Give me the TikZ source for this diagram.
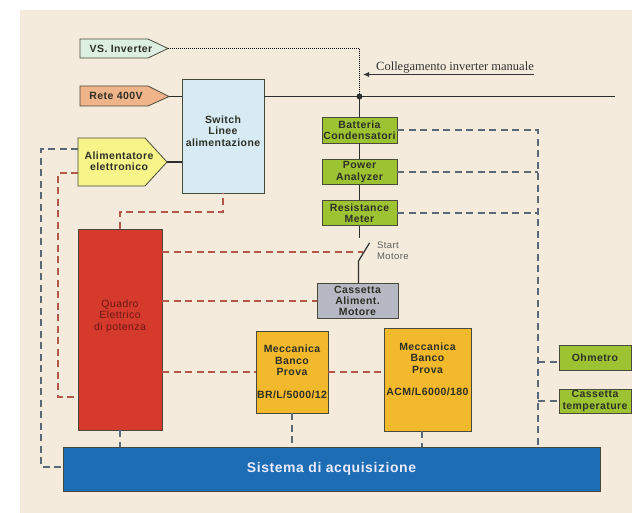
\documentclass[tikz,border=0pt]{standalone}
\usepackage{fontspec}
\setmainfont{Liberation Serif}
\setsansfont{Liberation Sans}
\newfontfamily\boxfont[LetterSpace=4]{Liberation Sans}
\usetikzlibrary{arrows.meta}
\definecolor{bg}{HTML}{F4EBDC}
\definecolor{edge}{HTML}{4A4A3C}
\definecolor{txt}{HTML}{2E3026}
\definecolor{vsc}{HTML}{DCEFE0}
\definecolor{retec}{HTML}{EFB48A}
\definecolor{swc}{HTML}{D6EBF4}
\definecolor{alimc}{HTML}{F7F48A}
\definecolor{grn}{HTML}{9DC332}
\definecolor{quadc}{HTML}{D63A2C}
\definecolor{quadt}{HTML}{6B1A14}
\definecolor{gryc}{HTML}{B6B9C4}
\definecolor{orc}{HTML}{F3B92C}
\definecolor{acqc}{HTML}{1D6DB4}
\definecolor{redd}{HTML}{B5564A}
\definecolor{blued}{HTML}{5A6878}
\definecolor{wirec}{HTML}{2E2E2E}
\definecolor{graytxt}{HTML}{5E5E5E}
\begin{document}
\begin{tikzpicture}[x=1pt,y=-1pt,
  bx/.style={draw=edge, line width=0.8pt, inner sep=0.5pt, align=center,
    font=\boxfont\bfseries\fontsize{10.5}{11.5}\selectfont, text=txt},
  bxtext/.style={inner sep=0pt, align=center,
    font=\boxfont\bfseries\fontsize{10.5}{11.5}\selectfont, text=txt},
  arrowshape/.style={draw=edge, line width=0.8pt},
  wire/.style={draw=wirec, line width=1.2pt},
  reddash/.style={draw=redd, line width=1.6pt, dash pattern=on 7pt off 4.5pt},
  bluedash/.style={draw=blued, line width=1.6pt, dash pattern=on 7pt off 4.5pt},
  dots/.style={draw=black, line width=0.9pt, dash pattern=on 0.9pt off 1.1pt}
]
\useasboundingbox (0,0) rectangle (632,513);
\fill[bg] (20,10) rectangle (632,513);

% arrow-shaped inputs
\filldraw[arrowshape, fill=vsc] (80,39) -- (148,39) -- (168,48.5) -- (148,58) -- (80,58) -- cycle;
\node[bxtext] (vs) at (121,48.5) {VS. Inverter};
\coordinate (vstip) at (168,48.5);

\filldraw[arrowshape, fill=retec] (80,86) -- (148,86) -- (169,96.5) -- (148,106) -- (80,106) -- cycle;
\node[bxtext] (rete) at (116,96) {Rete 400V};
\coordinate (retetip) at (169,96.5);

\filldraw[arrowshape, fill=alimc] (78,138) -- (145,138) -- (167,162) -- (145,186) -- (78,186) -- cycle;
\node[bxtext] (alim) at (119,161) {Alimentatore\\elettronico};
\coordinate (alimtip) at (167,162);
\coordinate (alimblueL) at (78,149);
\coordinate (alimredL) at (78,173);

% switch
\node[bx, fill=swc, minimum width=82, minimum height=114] (switch) at (223,136) {};
\node[bxtext] (switchtxt) at (223,131) {Switch\\Linee\\alimentazione};

% green chain
\node[bx, fill=grn, minimum width=75, minimum height=26] (batt) at (359.5,130) {Batteria\\Condensatori};
\node[bx, fill=grn, minimum width=75, minimum height=25] (power) at (359.5,172) {Power\\Analyzer};
\node[bx, fill=grn, minimum width=75, minimum height=25] (resist) at (359.5,213) {Resistance\\Meter};

\node[bx, fill=gryc, minimum width=81, minimum height=35, font=\boxfont\bfseries\fontsize{10.5}{11.2}\selectfont] (cassA) at (357.5,301) {Cassetta\\Aliment.\\Motore};

% quadro
\node[bx, fill=quadc, minimum width=84, minimum height=201] (quadro) at (120,329.5) {};
\node[inner sep=0pt, align=center, text=quadt, font=\boxfont\fontsize{10.5}{11.5}\selectfont] (quadrotxt) at (120,316) {Quadro\\Elettrico\\di potenza};

% meccanica
\node[bx, fill=orc, minimum width=72, minimum height=82] (BR) at (292,372) {Meccanica\\Banco\\Prova\\[11pt]BR/L/5000/12};
\node[bx, fill=orc, minimum width=87, minimum height=103] (ACM) at (427.5,379.5) {};
\node[bxtext] (ACMtxt) at (427.5,369.5) {Meccanica\\Banco\\Prova\\[11pt]ACM/L6000/180};

% right boxes
\node[bx, fill=grn, minimum width=72, minimum height=25] (ohm) at (595,357.5) {Ohmetro};
\node[bx, fill=grn, minimum width=72, minimum height=24, inner sep=0.3pt, font=\boxfont\bfseries\fontsize{10.5}{11.2}\selectfont] (temp) at (595,401) {Cassetta\\temperature};

% acquisition
\node[draw=edge, line width=0.8pt, fill=acqc, minimum width=537, minimum height=44, text=white!92!blue, font=\boxfont\bfseries\fontsize{14}{16}\selectfont] (acq) at (331.5,469) {Sistema di acquisizione};

% manual inverter link
\coordinate (vscorner) at (359.5,48.5);
\coordinate (jn) at (359.5,96.5);
\draw[dots] (vstip) -- (vscorner) -- (jn);
\node[anchor=base west, inner sep=0pt, text=black!80, font=\fontsize{12.5}{14}\selectfont] (coll) at (376,71) {Collegamento inverter manuale};
\draw[draw=black!80, line width=0.8pt, -{Latex[length=6pt,width=5pt]}] ([yshift=-3.5pt]coll.base east) -- ([yshift=-3.5pt,xshift=3.5pt]coll.base west -| jn);

% power lines
\coordinate (mainend) at (615,96.5);
\draw[wire] (retetip) -- (switch.west |- retetip);
\draw[wire] (alimtip) -- (switch.west |- alimtip);
\draw[wire] (switch.east |- jn) -- (mainend);
\fill[wirec] (jn) circle (3);
\draw[wire] (jn) -- (batt.north);
\draw[wire] (batt.south) -- (power.north);
\draw[wire] (power.south) -- (resist.north);
\coordinate (swtop) at (359.5,238);
\coordinate (swbot) at (358.5,261);
\coordinate (swarm) at (369.5,243);
\coordinate (swmid) at (363,252);
\draw[wire] (resist.south) -- (swtop);
\draw[wire] (swarm) -- (swbot) -- (swbot |- cassA.north);
\node[anchor=north west, inner sep=0pt, align=left, text=graytxt, font=\boxfont\fontsize{9.5}{11}\selectfont] (start) at (377,241.5) {Start\\Motore};

% red dashed control lines
\coordinate (topbend) at (120,212);
\draw[reddash] (quadro.east |- swmid) -- (swmid);
\draw[reddash] (quadro.east |- cassA.west) -- (cassA.west);
\draw[reddash] (quadro.east |- BR.west) -- (BR.west);
\draw[reddash] (BR.east) -- (ACM.west |- BR.east);
\draw[reddash] (quadro.north) -- (topbend) -| (switch.south);
\draw[reddash] (alimredL) -- (58,173) -- (58,397) -- (quadro.west |- 0,397);

% blue dashed acquisition lines
\coordinate (busTop) at (538,130);
\draw[bluedash] (batt.east) -- (busTop) -- (busTop |- acq.north);
\draw[bluedash] (power.east) -- (power.east -| busTop);
\draw[bluedash] (resist.east) -- (resist.east -| busTop);
\coordinate (ohmtap) at ([yshift=-4.5pt]ohm.west);
\draw[bluedash] (busTop |- ohmtap) -- (ohmtap);
\draw[bluedash] (busTop |- temp.west) -- (temp.west);
\draw[bluedash] (quadro.south) -- (quadro.south |- acq.north);
\draw[bluedash] (BR.south) -- (BR.south |- acq.north);
\draw[bluedash] ([xshift=-5.5pt]ACM.south) -- ([xshift=-5.5pt]ACM.south |- acq.north);
\draw[bluedash] (alimblueL) -- (41,149) -- (41,467) -- (acq.west |- 0,467);
\end{tikzpicture}
\end{document}
